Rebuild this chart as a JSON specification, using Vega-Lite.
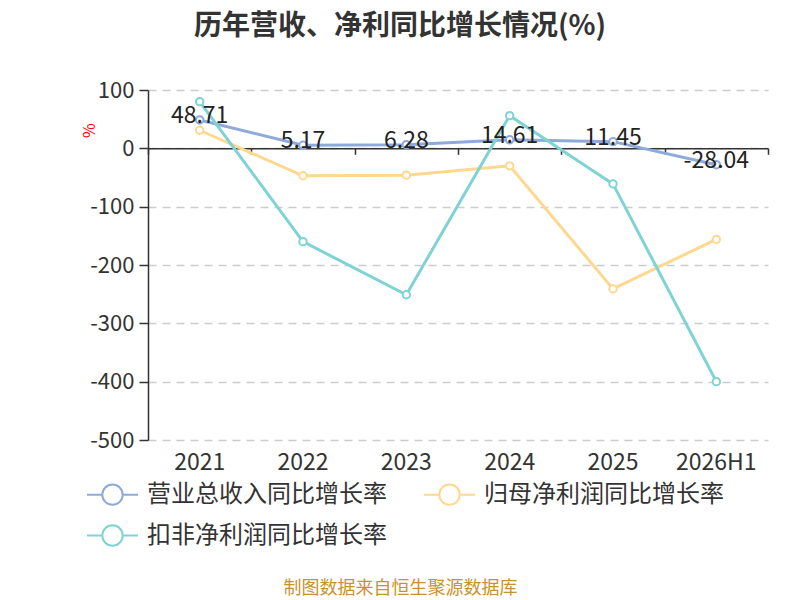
{
  "$schema": "https://vega.github.io/schema/vega-lite/v6.json",
  "width": 620,
  "height": 350,
  "autosize": "none",
  "padding": {"left": 148, "top": 90, "right": 32, "bottom": 160},
  "background": "white",
  "config": {
    "font": "Noto Sans CJK SC",
    "view": {"stroke": null},
    "axis": {"labelFont": "Noto Sans CJK SC", "titleFont": "Noto Sans CJK SC"},
    "locale": {
      "number": {"decimal": ".", "thousands": ",", "grouping": [3], "currency": ["", ""], "minus": "-"}
    }
  },
  "title": {
    "text": "历年营收、净利同比增长情况(%)",
    "fontSize": 28,
    "fontWeight": "bold",
    "color": "#333333",
    "anchor": "middle",
    "dx": -58,
    "offset": 38
  },
  "data": {
    "values": [
      {"year": "2021", "series": "营业总收入同比增长率", "value": 48.71},
      {"year": "2022", "series": "营业总收入同比增长率", "value": 5.17},
      {"year": "2023", "series": "营业总收入同比增长率", "value": 6.28},
      {"year": "2024", "series": "营业总收入同比增长率", "value": 14.61},
      {"year": "2025", "series": "营业总收入同比增长率", "value": 11.45},
      {"year": "2026H1", "series": "营业总收入同比增长率", "value": -28.04},
      {"year": "2021", "series": "归母净利润同比增长率", "value": 31},
      {"year": "2022", "series": "归母净利润同比增长率", "value": -47},
      {"year": "2023", "series": "归母净利润同比增长率", "value": -46},
      {"year": "2024", "series": "归母净利润同比增长率", "value": -30},
      {"year": "2025", "series": "归母净利润同比增长率", "value": -241},
      {"year": "2026H1", "series": "归母净利润同比增长率", "value": -156},
      {"year": "2021", "series": "扣非净利润同比增长率", "value": 80},
      {"year": "2022", "series": "扣非净利润同比增长率", "value": -160},
      {"year": "2023", "series": "扣非净利润同比增长率", "value": -251},
      {"year": "2024", "series": "扣非净利润同比增长率", "value": 56},
      {"year": "2025", "series": "扣非净利润同比增长率", "value": -61},
      {"year": "2026H1", "series": "扣非净利润同比增长率", "value": -400}
    ]
  },
  "resolve": {"axis": {"x": "independent"}},
  "layer": [
    {
      "mark": {
        "type": "line",
        "strokeWidth": 3,
        "point": {"filled": false, "fill": "white", "size": 55, "strokeWidth": 2}
      },
      "encoding": {
        "x": {
          "field": "year",
          "type": "ordinal",
          "sort": null,
          "scale": {"type": "band", "paddingInner": 0, "paddingOuter": 0},
          "axis": {
            "orient": "top",
            "offset": -58.3,
            "labels": false,
            "title": null,
            "domain": true,
            "domainColor": "#333333",
            "domainWidth": 1.5,
            "ticks": true,
            "tickBand": "extent",
            "tickSize": -6,
            "tickColor": "#333333",
            "tickWidth": 1.5
          }
        },
        "y": {
          "field": "value",
          "type": "quantitative",
          "scale": {"domain": [-500, 100], "nice": false},
          "axis": {
            "values": [100, 0, -100, -200, -300, -400, -500],
            "title": "%",
            "titleColor": "#ff0000",
            "titleFontSize": 16,
            "titleFontWeight": "normal",
            "titleAngle": 270,
            "titleX": -59,
            "titleY": 40,
            "titleAlign": "center",
            "titleBaseline": "middle",
            "labelFontSize": 22,
            "labelColor": "#333333",
            "labelPadding": 5,
            "domainColor": "#333333",
            "domainWidth": 1.5,
            "tickColor": "#333333",
            "tickSize": 9,
            "tickWidth": 1.5,
            "grid": true,
            "gridColor": "#cccccc",
            "gridDash": [8, 6],
            "gridWidth": 1.5
          }
        },
        "color": {
          "field": "series",
          "type": "nominal",
          "sort": ["营业总收入同比增长率", "归母净利润同比增长率", "扣非净利润同比增长率"],
          "scale": {
            "domain": ["营业总收入同比增长率", "归母净利润同比增长率", "扣非净利润同比增长率"],
            "range": ["#8eaadb", "#ffd88f", "#7fd3d5"]
          },
          "legend": {
            "title": null,
            "orient": "none",
            "legendX": -62,
            "legendY": 378,
            "direction": "horizontal",
            "columns": 2,
            "columnPadding": 33,
            "rowPadding": -6,
            "labelFontSize": 24,
            "labelColor": "#333333",
            "labelLimit": 400,
            "labelOffset": 8,
            "symbolType": "M-1,0L-0.4,0M0.4,0L1,0M0.4,0A0.4,0.4 0 1,1 -0.4,0A0.4,0.4 0 1,1 0.4,0",
            "symbolSize": 2600,
            "symbolStrokeWidth": 2,
            "symbolFillColor": "white"
          }
        }
      }
    },
    {
      "transform": [{"filter": "datum.series === '营业总收入同比增长率'"}],
      "mark": {
        "type": "text",
        "fontSize": 23,
        "color": "#222222",
        "baseline": "middle",
        "dy": -4
      },
      "encoding": {
        "x": {
          "field": "year",
          "type": "ordinal",
          "sort": null,
          "scale": {"type": "band", "paddingInner": 0, "paddingOuter": 0},
          "axis": {
            "orient": "bottom",
            "domain": false,
            "ticks": false,
            "labelFontSize": 23,
            "labelColor": "#333333",
            "labelPadding": 11,
            "labelAngle": 0,
            "title": "制图数据来自恒生聚源数据库",
            "titleColor": "#c8922e",
            "titleFontSize": 18,
            "titleFontWeight": "normal",
            "titleX": 252,
            "titleY": 148,
            "titleBaseline": "middle",
            "titleAlign": "center"
          }
        },
        "y": {"field": "value", "type": "quantitative"},
        "text": {"field": "value", "type": "quantitative", "format": ".2f"}
      }
    }
  ]
}
